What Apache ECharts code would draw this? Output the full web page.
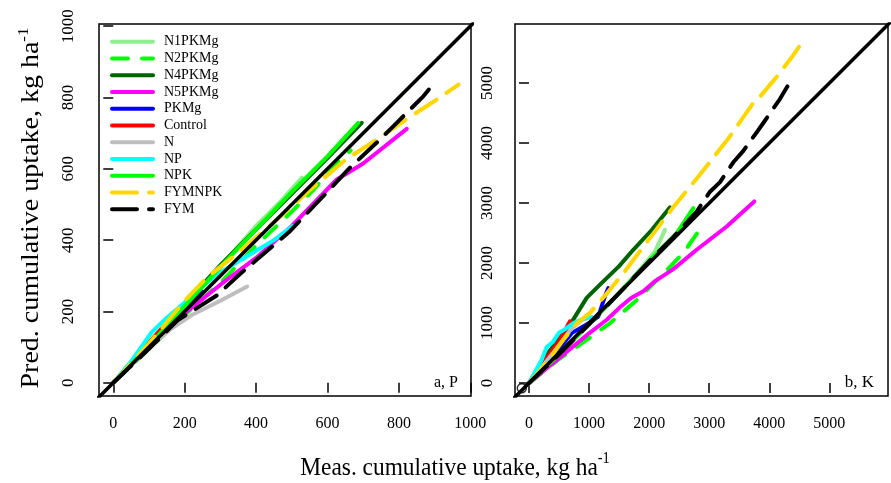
<!DOCTYPE html>
<html><head><meta charset="utf-8">
<script src="https://cdn.jsdelivr.net/npm/echarts@6/dist/echarts.min.js"></script>
<style>html,body{margin:0;padding:0;background:#fff}#c{width:891px;height:483px}</style>
</head><body><div id="c"></div>
<script>
// ---- series meta ----
const seriesNames  = ['N1PKMg','N2PKMg','N4PKMg','N5PKMg','PKMg','Control','N','NP','NPK','FYMNPK','FYM'];
const seriesColors = ['#90EE90','#00FF00','#006400','#FF00FF','#0000FF','#FF0000','#BEBEBE','#00FFFF','#00FF00','#FFD700','#000000'];
const seriesDash   = ['solid',[16,14],'solid','solid','solid','solid','solid','solid','solid',[25,12],[25,12]];

// ---- panel a, P (measured, predicted) ----
const P_N1PKMg = [[0,0],[100,105],[200,215],[300,325],[400,440],[470,510],[528,575]];
const P_N2PKMg = [[0,0],[100,95],[200,190],[300,280],[400,385],[500,480],[560,540],[620,610],[665,652]];
const P_N4PKMg = [[0,0],[100,108],[200,220],[300,330],[400,430],[500,530],[600,630],[696,729]];
const P_N5PKMg = [[0,0],[100,100],[200,195],[300,275],[400,350],[500,440],[626,570],[700,615],[822,712]];
const P_PKMg   = [[0,0],[100,105],[200,205],[250,255]];
const P_Control= [[0,0],[80,90],[160,180],[220,240]];
const P_N      = [[0,0],[100,98],[160,150],[220,190],[300,230],[375,270]];
const P_NP     = [[0,0],[50,60],[107,141],[145,178],[200,225],[250,270],[300,310],[350,340],[400,370],[450,400],[503,440]];
const P_NPK    = [[0,0],[100,105],[200,215],[300,325],[400,430],[500,535],[600,635],[686,729]];
const P_FYMNPK = [[0,0],[100,110],[200,230],[262,295],[350,365],[450,450],[550,540],[650,625],[750,690],[830,745],[900,790],[967,836]];
const P_FYM    = [[0,0],[100,95],[180,175],[290,245],[355,305],[495,425],[580,515],[663,603],[747,682],[794,729],[869,804],[905,848]];

// ---- panel b, K ----
const K_N1PKMg = [[0,0],[500,500],[1000,1000],[1500,1500],[1900,1950],[2100,2200],[2264,2555]];
const K_N2PKMg = [[0,0],[500,400],[1000,750],[1350,1000],[1800,1390],[2240,1830],[2570,2170],[2900,2640]];
const K_N4PKMg = [[0,0],[300,480],[700,1000],[960,1420],[1182,1640],[1500,1950],[1736,2222],[2050,2560],[2347,2930]];
const K_N5PKMg = [[0,0],[200,167],[600,500],[1000,830],[1300,1060],[1500,1250],[1700,1420],[1903,1530],[2100,1700],[2402,1900],[2791,2222],[3291,2610],[3750,3027]];
const K_PKMg   = [[0,0],[400,450],[711,833],[1000,1000],[1154,1110],[1265,1450],[1320,1583]];
const K_Control= [[0,0],[350,500],[500,700],[682,1030]];
const K_N      = [[0,0],[400,500],[700,900],[877,1050],[1044,1100]];
const K_NP     = [[0,0],[100,190],[211,390],[295,600],[400,690],[500,840],[600,900],[737,1000],[900,1070],[1040,1100]];
const K_NPK    = [[0,0],[500,480],[1000,980],[1500,1500],[2014,2055],[2459,2500],[2736,2917]];
const K_FYMNPK = [[0,0],[300,350],[571,722],[800,1000],[1015,1170],[1300,1500],[1570,1830],[2000,2400],[2400,2930],[2850,3480],[3350,4120],[3720,4650],[3850,4780],[4120,5100],[4373,5430],[4595,5750]];
const K_FYM    = [[0,0],[500,480],[1000,980],[1500,1500],[2000,2030],[2400,2430],[2792,2860],[3013,3190],[3180,3350],[3401,3680],[3568,3870],[3790,4180],[3929,4377],[4179,4738],[4345,5017]];

// ---- reference lines / ticks ----
const P_oneToOne = [[-100,-100],[1100,1100]];
const K_oneToOne = [[-600,-600],[6600,6600]];
const K_originMark = [[-120,-85]];
const P_ticks = [0,200,400,600,800,1000];
const K_ticks = [0,1000,2000,3000,4000,5000];
const P_range = {xmin:-40, xmax:1002, ymin:-37, ymax:1006};
const K_range = {xmin:-233, xmax:5976, ymin:-215, ymax:5985};

const P_data = [P_N1PKMg,P_N2PKMg,P_N4PKMg,P_N5PKMg,P_PKMg,P_Control,P_N,P_NP,P_NPK,P_FYMNPK,P_FYM];
const K_data = [K_N1PKMg,K_N2PKMg,K_N4PKMg,K_N5PKMg,K_PKMg,K_Control,K_N,K_NP,K_NPK,K_FYMNPK,K_FYM];

const FONT = 'Liberation Serif';
const chart = echarts.init(document.getElementById('c'), null, {renderer:'canvas'});
const plain = v => String(v);

function mkSeries(data, gi) {
  return data.map((d, i) => ({
    name: seriesNames[i], type: 'line', xAxisIndex: gi, yAxisIndex: gi,
    data: d, symbol: 'none', showSymbol: false, clip: true, z: 3,
    color: seriesColors[i],
    lineStyle: {color: seriesColors[i], width: 4, type: seriesDash[i], cap: 'round', join: 'round'}
  }));
}
function mkXAxis(gi, r, ticks, margin) {
  return {type:'value', gridIndex: gi, min: r.xmin, max: r.xmax,
    axisLine:{show:false}, splitLine:{show:false},
    axisTick:{show:true, length:10, customValues: ticks, lineStyle:{color:'#000', width:1.5}},
    axisLabel:{customValues: ticks, formatter: plain, margin: margin, color:'#000', fontFamily: FONT, fontSize: 16}};
}
function mkYAxis(gi, r, ticks, margin) {
  return {type:'value', gridIndex: gi, min: r.ymin, max: r.ymax,
    axisLine:{show:false}, splitLine:{show:false},
    axisTick:{show:true, length:10, customValues: ticks, lineStyle:{color:'#000', width:1.5}},
    axisLabel:{customValues: ticks, formatter: plain, margin: margin, rotate: 90, color:'#000', fontFamily: FONT, fontSize: 17}};
}

const series = [].concat(
  mkSeries(P_data, 0), mkSeries(K_data, 1),
  [{name:'1:1', type:'line', xAxisIndex:0, yAxisIndex:0, data:P_oneToOne, symbol:'none', clip:true, z:4,
     lineStyle:{color:'#000', width:3.5}},
   {name:'1:1', type:'line', xAxisIndex:1, yAxisIndex:1, data:K_oneToOne, symbol:'none', clip:true, z:4,
     lineStyle:{color:'#000', width:3.5}},
   {name:'origin', type:'scatter', xAxisIndex:1, yAxisIndex:1, data:K_originMark, symbol:'circle', symbolSize:9, z:5,
     itemStyle:{color:'rgba(0,0,0,0)', borderColor:'#000', borderWidth:1.5}}]
);

chart.setOption({
  animation: false,
  backgroundColor: '#fff',
  grid: [
    {left:99, top:24, width:372, height:372, show:true, borderColor:'#000', borderWidth:1.5, backgroundColor:'transparent'},
    {left:515, top:24, width:373, height:372, show:true, borderColor:'#000', borderWidth:1.5, backgroundColor:'transparent'}
  ],
  xAxis: [mkXAxis(0, P_range, P_ticks, 20), mkXAxis(1, K_range, K_ticks, 20)],
  yAxis: [mkYAxis(0, P_range, P_ticks, 22), mkYAxis(1, K_range, K_ticks, 19)],
  legend: {
    data: seriesNames, orient:'vertical', left:110, top:34.7, padding:0,
    itemWidth:41, itemHeight:14, itemGap:2.76, selectedMode:false,
    itemStyle:{opacity:0},
    lineStyle:{width:4, cap:'round'},
    textStyle:{fontFamily: FONT, fontSize:14, color:'#000', lineHeight:14, padding:[0,0,0,6]}
  },
  graphic: [
    {type:'text', x:455, y:466, scaleX:0.9, scaleY:1,
     style:{text:'{m|Meas. cumulative uptake, kg ha}{s|-1}', align:'center', verticalAlign:'middle',
       rich:{m:{fontFamily:FONT, fontSize:26, fill:'#000', lineHeight:30, verticalAlign:'bottom'},
             s:{fontFamily:FONT, fontSize:16, fill:'#000', lineHeight:30, verticalAlign:'top'}}}},
    {type:'text', x:30, y:208, rotation:Math.PI/2, scaleX:1, scaleY:0.9,
     style:{text:'{m|Pred. cumulative uptake, kg ha}{s|-1}', align:'center', verticalAlign:'middle',
       rich:{m:{fontFamily:FONT, fontSize:28, fill:'#000', lineHeight:30, verticalAlign:'bottom'},
             s:{fontFamily:FONT, fontSize:17, fill:'#000', lineHeight:30, verticalAlign:'top'}}}},
    {type:'text', x:458, y:383, style:{text:'a, P', align:'right', verticalAlign:'middle', font:'16px "Liberation Serif"', fill:'#000'}},
    {type:'text', x:874, y:383, style:{text:'b, K', align:'right', verticalAlign:'middle', font:'17px "Liberation Serif"', fill:'#000'}}
  ],
  series: series
});
</script></body></html>
